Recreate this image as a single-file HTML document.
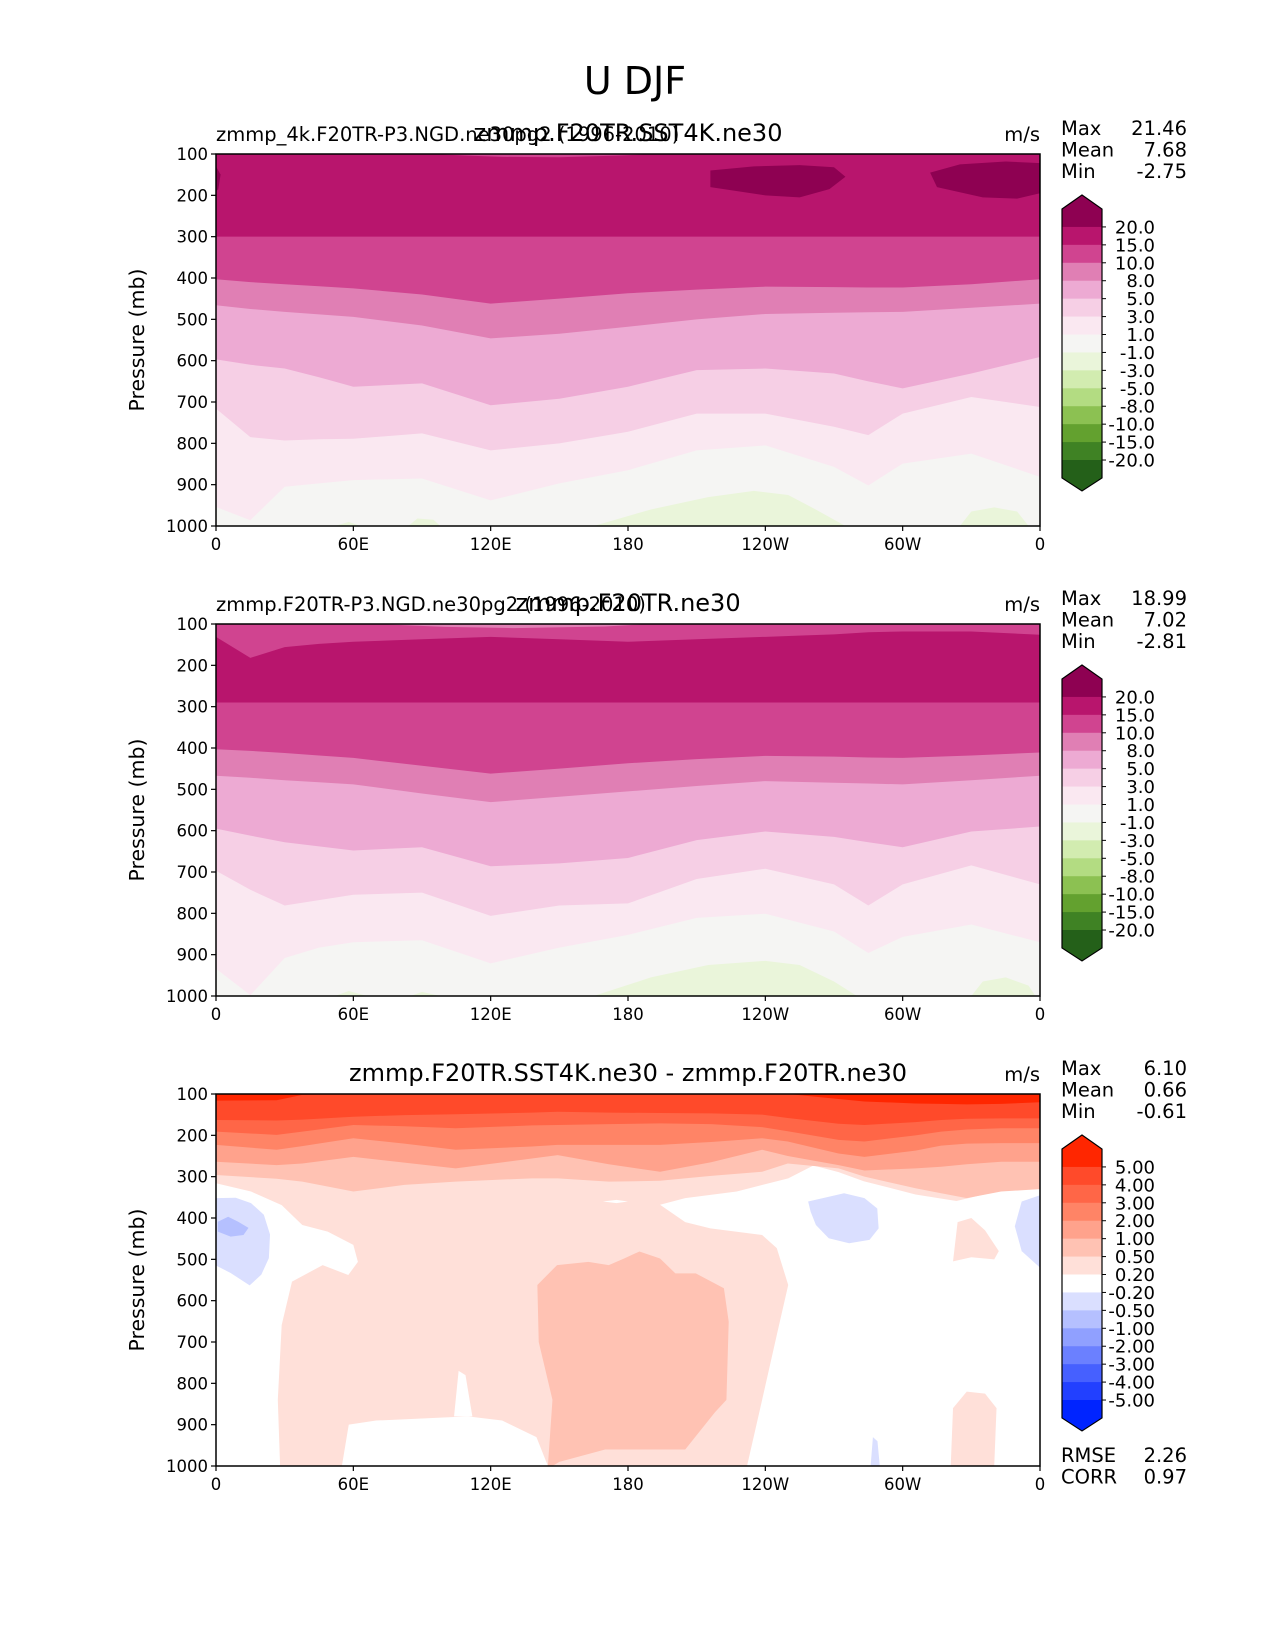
<!DOCTYPE html>
<html><head><meta charset="utf-8"><style>
html,body{margin:0;padding:0;background:#fff;}
svg{display:block;font-family:"DejaVu Sans","Liberation Sans",sans-serif;}
</style></head><body>
<svg id="fig" width="1275" height="1650" viewBox="0 0 1275 1650" xmlns="http://www.w3.org/2000/svg">
<rect width="1275" height="1650" fill="#fff"/>
<text x="635" y="94" font-size="38" text-anchor="middle">U DJF</text>
</svg>
<script>
// ---------- data ----------
const lonTicks = [0,60,120,180,240,300,360];
const lonLabels = ["0","60E","120E","180","120W","60W","0"];
const pTicks = [100,200,300,400,500,600,700,800,900,1000];
const lvLabelsA = ["20.0","15.0","10.0","8.0","5.0","3.0","1.0","-1.0","-3.0","-5.0","-8.0","-10.0","-15.0","-20.0"];
const lvLabelsD = ["5.00","4.00","3.00","2.00","1.00","0.50","0.20","-0.20","-0.50","-1.00","-2.00","-3.00","-4.00","-5.00"];
const colA = ["#8e0152","#b8156d","#d04490","#e07fb4","#edaad3","#f6cfe5","#fae8f1","#f5f5f3","#eaf5da","#d2ecb0","#b3dc82","#8cc152","#63a12f","#3f8224","#246019"];
const colD = ["#ff2600","#ff4a2a","#ff6647","#ff8466","#ffa28c","#ffc2b3","#ffe0d9","#ffffff","#dadfff","#b5c0ff","#90a0ff","#6b80ff","#4660ff","#2240ff","#0024ff"];

const lonA = [0,15,30,45,60,90,120,150,180,210,240,270,285,300,330,360];
const p1_b10 = [403,410,415,420,425,440,462,450,437,428,421,422,423,423,415,403];
const p1_b8  = [466,475,482,488,494,515,546,535,518,500,487,484,483,482,472,462];
const p1_b5  = [597,610,619,640,663,655,708,692,663,623,619,631,650,667,631,591];
const p1_b3  = [716,785,793,790,789,776,817,800,772,728,728,760,780,728,688,712];
const p1_b1  = [954,986,905,897,889,885,938,897,865,817,805,857,902,849,825,881];
const p2_top = [131,182,156,148,143,137,131,137,143,137,131,125,120,118,118,126];
const p2_b10 = [403,407,412,418,424,443,462,450,437,427,419,421,423,424,418,411];
const p2_b8  = [467,472,478,483,488,510,531,518,505,492,480,484,486,488,478,467];
const p2_b5  = [595,612,628,638,648,640,686,679,666,623,602,615,628,640,602,590];
const p2_b3  = [697,743,781,768,755,750,806,781,776,717,692,730,781,730,684,730];
const p2_b1  = [934,998,908,883,870,865,921,883,852,811,801,844,896,857,827,870];
const lonD = [0,26.5,37.7,60,82.3,104.7,138,149.3,171.6,194,216.3,238.6,249.8,272,283.3,305.6,316.8,328,343,360];
const d_b5 = [116,115,102,100,100,100,100,100,100,100,100,100,100,112,118,123,124,125,124,120];
const d_b4 = [163,164,162,155,151,149,145,143,145,146,147,150,158,172,175,168,163,160,159,159];
const d_b3 = [191,199,191,175,178,183,176,175,173,171,173,180,190,211,215,200,191,186,183,183];
const d_b2 = [223,235,226,207,220,235,227,223,223,223,216,207,215,244,252,237,225,220,219,219];
const d_b1 = [264,272,268,252,266,280,256,248,270,288,265,235,250,272,285,280,276,270,264,264];
const d_b05= [296,305,312,336,320,312,304,304,312,310,298,288,268,280,300,328,340,352,336,330];
const d_pinkLon = [0,360,360,323.5,305.6,283,272,261,250,227.5,205,194,205,216,238.6,245,250,245,238.6,232,145,140,125,110,90,70,58,55,28,27,28.7,33.2,46.6,57.8,62,60,48.8,37.7,28.7,15.3,0];
const d_pinkP   = [100,100,311,359,343,311,289,273,304,336,352,368,410,425,441,473,562,683,840,1000,1000,930,890,880,885,890,900,1000,1000,840,659,554,514,538,506,465,433,417,369,336,316];
const d_salLon = [140.4,149,162.7,171.6,178.3,185,194,200.7,209.6,221.9,224,223,218,205,170,150,147,145,147,141];
const d_salP   = [562,514,506,514,498,481,498,534,534,570,651,840,870,960,960,990,1000,1000,840,700];
const d_blueLLon = [0,8.6,15.3,20.9,23.6,23.1,19.8,14.7,6.4,0];
const d_blueLP   = [352,351,364,392,440,497,537,563,533,515];
const d_blue2Lon = [0.8,5.3,9.7,14.2,12,6.4,0.8];
const d_blue2P   = [409,397,409,424,441,445,433];
const d_blueRLon = [258.7,274.4,283.3,288.9,289.5,285.5,276.6,267.7,262.1,259.8];
const d_blueRP   = [360,340,352,377,425,453,461,449,417,385];
const d_blueELon = [360,352,349,352,360];
const d_blueEP   = [345,360,420,480,520];
const d_blueBLon = [286,287,289,290];
const d_blueBP   = [1000,930,940,1000];
const d_pinkRLon = [322,324,330,336,342,340,330];
const d_pinkRP   = [505,410,400,430,480,500,495];
const d_pinkBLon = [321,322,328,336,341,340];
const d_pinkBP   = [1000,860,820,825,860,1000];
const d_spikeLon = [104,106,109,112];
const d_spikeP   = [880,770,780,880];
const d_holeLon = [169,175,180,175];
const d_holeP = [360,356,360,364];
const a_blobALon=[216,235,255,270,275,268,255,240,216], a_blobAP=[140,130,127,132,155,185,205,200,180];
const a_blobBLon=[312,325,345,360,360,350,335,315], a_blobBP=[145,125,118,122,195,208,205,180];
const a_blobCLon=[0,2,1,0], a_blobCP=[130,150,185,190];
const a_topLon=[94,192,175,150,125,110], a_topP=[100,100,104,108,107,104];
const a_g1Lon=[165,190,215,235,250,262,275], a_g1P=[1000,960,930,915,925,960,1000];
const a_g2Lon=[325,330,340,350,355], a_g2P=[1000,965,955,965,1000];
const a_g3Lon=[84,88,95,98], a_g3P=[1000,982,985,1000];
const a_g4Lon=[52,58,63], a_g4P=[1000,990,1000];
const b_topLon=[70,190,170,130,100], b_topP=[100,100,106,110,107];
const b_g1Lon=[165,190,215,240,255,270,280], b_g1P=[1000,955,925,915,925,965,1000];
const b_g2Lon=[330,335,345,355,358], b_g2P=[1000,965,955,975,1000];
const b_g3Lon=[52,58,66], b_g3P=[1000,988,1000];
const b_g4Lon=[85,90,98], b_g4P=[1000,990,1000];
const statsA=["21.46","7.68","-2.75"], statsB=["18.99","7.02","-2.81"], statsD=["6.10","0.66","-0.61"];
const extraD=[["RMSE","2.26"],["CORR","0.97"]];

// ---------- drawing ----------
const NS="http://www.w3.org/2000/svg";
const fig=document.getElementById('fig');
const X0=216,X1=1040,PH=372;
function xs(lon){return X0+lon/360*(X1-X0);}
function mk(tag,attrs,parent){const e=document.createElementNS(NS,tag);for(const k in attrs)e.setAttribute(k,attrs[k]);(parent||fig).appendChild(e);return e;}
function panelY(top){return p=>top+(p-100)/900*PH;}

function bandFill(g,ys,lons,ps,color,name){
  let pts=[[xs(0),ys(100)]];
  for(let i=0;i<lons.length;i++)pts.push([xs(lons[i]),ys(ps[i])]);
  pts.push([xs(360),ys(100)]);
  const e=mk('polygon',{points:pts.map(p=>p.join(',')).join(' '),fill:color},g);
  
  
}
function region(g,ys,lons,ps,color,name){
  const pts=lons.map((l,i)=>xs(l)+','+ys(ps[i])).join(' ');
  const e=mk('polygon',{points:pts,fill:color},g);
  
  
}

function axes(top,leftTitle,centerTitle,stats,labels,cols,extra,idx){
  const ys=panelY(top);
  const bot=top+PH;
  let t=mk('text',{x:X0,y:top-13,'font-size':19.5});t.textContent=leftTitle;
  
  
  t=mk('text',{x:(X0+X1)/2,y:top-13,'font-size':24,'text-anchor':'middle'});t.textContent=centerTitle;
  
  
  t=mk('text',{x:X1,y:top-13,'font-size':19.5,'text-anchor':'end'});t.textContent='m/s';
  
  
  const f=mk('rect',{x:X0,y:top,width:X1-X0,height:PH,fill:'none',stroke:'#000','stroke-width':1.5});
  
  
  pTicks.forEach(p=>{
    mk('line',{x1:X0-5,x2:X0,y1:ys(p),y2:ys(p),stroke:'#000','stroke-width':1.2});
    const l=mk('text',{x:X0-8,y:ys(p)+6,'font-size':16.5,'text-anchor':'end'});l.textContent=p;
    
    
  });
  lonTicks.forEach((lo,i)=>{
    mk('line',{x1:xs(lo),x2:xs(lo),y1:bot,y2:bot+5,stroke:'#000','stroke-width':1.2});
    const l=mk('text',{x:xs(lo),y:bot+24,'font-size':16.5,'text-anchor':'middle'});l.textContent=lonLabels[i];
    
    
  });
  const yl=mk('text',{x:0,y:0,'font-size':20.5,'text-anchor':'middle',transform:`translate(144,${top+PH/2}) rotate(-90)`});
  yl.textContent='Pressure (mb)';
  
  
  ["Max","Mean","Min"].forEach((s,i)=>{
    let a=mk('text',{x:1061,y:top-19+i*21.5,'font-size':19.5});a.textContent=s;
    
    
    a=mk('text',{x:1187,y:top-19+i*21.5,'font-size':19.5,'text-anchor':'end'});a.textContent=stats[i];
    
    
  });
  if(extra){extra.forEach((r,i)=>{
    let a=mk('text',{x:1061,y:bot-4+i*21.5,'font-size':19.5});a.textContent=r[0];
    
    
    a=mk('text',{x:1187,y:bot-4+i*21.5,'font-size':19.5,'text-anchor':'end'});a.textContent=r[1];
    
    
  });}
  const cb0=top+55, bh=17.93, cx0=1062, cx1=1102, cm=(cx0+cx1)/2;
  const g=mk('g',{});
  
  
  for(let i=0;i<cols.length;i++){
    const r=mk('rect',{x:cx0,y:cb0+i*bh,width:cx1-cx0,height:bh+0.5,fill:cols[i]},g);
    
    
  }
  const end=cb0+cols.length*bh;
  mk('polygon',{points:`${cx0},${cb0} ${cm},${cb0-14} ${cx1},${cb0}`,fill:cols[0]},g);
  mk('polygon',{points:`${cx0},${end} ${cm},${end+13} ${cx1},${end}`,fill:cols[cols.length-1]},g);
  mk('polygon',{points:`${cx0},${cb0} ${cm},${cb0-14} ${cx1},${cb0} ${cx1},${end} ${cm},${end+13} ${cx0},${end}`,fill:'none',stroke:'#000','stroke-width':1.2},g);
  labels.forEach((s,i)=>{
    const yy=cb0+(i+1)*bh;
    mk('line',{x1:cx1,x2:cx1+4,y1:yy,y2:yy,stroke:'#000'},g);
    const l=mk('text',{x:1155,y:yy+6.5,'font-size':18,'text-anchor':'end'},g);l.textContent=s;
    
    
  });
  return ys;
}

function fieldPanel(top,B,blobs,topStrip,greens,cols,idx){
  const ys=panelY(top);
  const g=mk('g',{});
  
  
  mk('rect',{x:X0,y:top,width:X1-X0,height:PH,fill:cols[7]},g);
  bandFill(g,ys,lonA,B.b1,cols[6],'band-1-3');
  bandFill(g,ys,lonA,B.b3,cols[5],'band-3-5');
  bandFill(g,ys,lonA,B.b5,cols[4],'band-5-8');
  bandFill(g,ys,lonA,B.b8,cols[3],'band-8-10');
  bandFill(g,ys,lonA,B.b10,cols[2],'band-10-15');
  bandFill(g,ys,lonA,lonA.map(()=>300).map((v,i)=>B.b15?B.b15[i]:v),cols[1],'band-15-20');
  if(B.top)bandFill(g,ys,lonA,B.top,cols[2],'band-top-10-15');
  topStrip.forEach(s=>region(g,ys,s[0],s[1],s[2],'top-strip'));
  blobs.forEach(b=>region(g,ys,b[0],b[1],cols[0],'jet-core-above-20'));
  greens.forEach(b=>region(g,ys,b[0],b[1],cols[8],'easterly-patch'));
}

fieldPanel(154,{b1:p1_b1,b3:p1_b3,b5:p1_b5,b8:p1_b8,b10:p1_b10},
  [[a_blobALon,a_blobAP],[a_blobBLon,a_blobBP],[a_blobCLon,a_blobCP]],
  [[a_topLon,a_topP,colA[2]]],
  [[a_g1Lon,a_g1P],[a_g2Lon,a_g2P],[a_g3Lon,a_g3P],[a_g4Lon,a_g4P]],colA,1);
axes(154,"zmmp_4k.F20TR-P3.NGD.ne30pg2 (1996-2010)","zmmp.F20TR.SST4K.ne30",statsA,lvLabelsA,colA,null,1);

fieldPanel(624,{b1:p2_b1,b3:p2_b3,b5:p2_b5,b8:p2_b8,b10:p2_b10,b15:lonA.map(()=>290),top:p2_top},
  [],
  [[b_topLon,b_topP,colA[3]]],
  [[b_g1Lon,b_g1P],[b_g2Lon,b_g2P],[b_g3Lon,b_g3P],[b_g4Lon,b_g4P]],colA,2);
axes(624,"zmmp.F20TR-P3.NGD.ne30pg2 (1996-2010)","zmmp.F20TR.ne30",statsB,lvLabelsA,colA,null,2);

(function(){
  const top=1094, ys=panelY(top);
  const g=mk('g',{});
  
  
  mk('rect',{x:X0,y:top,width:X1-X0,height:PH,fill:colD[7]},g);
  region(g,ys,d_pinkLon,d_pinkP,colD[6],'band-0.2-0.5');
  region(g,ys,d_pinkRLon,d_pinkRP,colD[6],'band-0.2-0.5-east');
  region(g,ys,d_pinkBLon,d_pinkBP,colD[6],'band-0.2-0.5-surface');
  region(g,ys,d_spikeLon,d_spikeP,colD[7],'neutral-spike');
  region(g,ys,d_holeLon,d_holeP,colD[7],'neutral-hole');
  region(g,ys,d_salLon,d_salP,colD[5],'band-0.5-1-column');
  bandFill(g,ys,lonD,d_b05,colD[5],'band-0.5-1');
  bandFill(g,ys,lonD,d_b1,colD[4],'band-1-2');
  bandFill(g,ys,lonD,d_b2,colD[3],'band-2-3');
  bandFill(g,ys,lonD,d_b3,colD[2],'band-3-4');
  bandFill(g,ys,lonD,d_b4,colD[1],'band-4-5');
  bandFill(g,ys,lonD,d_b5,colD[0],'band-above-5');
  region(g,ys,d_blueLLon,d_blueLP,colD[8],'negative-patch-west');
  region(g,ys,d_blue2Lon,d_blue2P,colD[9],'negative-core-west');
  region(g,ys,d_blueRLon,d_blueRP,colD[8],'negative-patch-east');
  region(g,ys,d_blueELon,d_blueEP,colD[8],'negative-patch-edge');
  region(g,ys,d_blueBLon,d_blueBP,colD[8],'negative-patch-surface');
})();
axes(1094,"","zmmp.F20TR.SST4K.ne30 - zmmp.F20TR.ne30",statsD,lvLabelsD,colD,extraD,3);
</script>
</body></html>
